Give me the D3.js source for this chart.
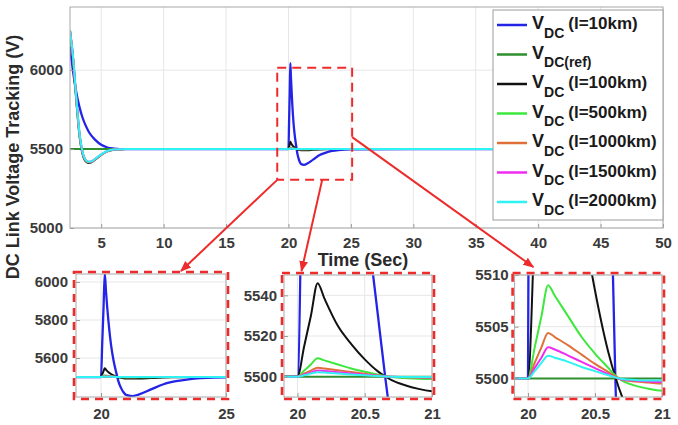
<!DOCTYPE html>
<html>
<head>
<meta charset="utf-8">
<script src="https://cdn.jsdelivr.net/npm/d3@7"></script>
<style>
  body { margin: 0; background: #fff; }
  svg { display: block; font-family: 'Liberation Sans', Arial, sans-serif; font-weight: bold; }
</style>
</head>
<body>
<div id="chart"></div>
<script>
// time axis shared by every series (denser around the disturbance at 20 s)
let timeSec = [2.5, 2.75, 3, 3.25, 3.5, 3.75, 4, 4.25, 4.5, 5, 5.5, 6, 6.5, 7, 10, 15, 20,
  20.05, 20.1, 20.15, 20.2, 20.3, 20.4, 20.5, 20.6, 20.65, 20.7, 20.8, 20.9, 21,
  21.25, 21.5, 22, 22.5, 23, 23.5, 24, 25, 30, 40, 50]

let vdc10km = [6150, 5990, 5860, 5770, 5700, 5650, 5610, 5582, 5560, 5527, 5510, 5503, 5500, 5500, 5500, 5500, 5500,
  5680, 5860, 6045, 5950, 5790, 5670, 5588, 5529, 5501, 5476, 5443, 5420, 5406,
  5400, 5408, 5435, 5462, 5478, 5488, 5494, 5499, 5500, 5500, 5500]

let vdcRef = [5500, 5500, 5500, 5500, 5500, 5500, 5500, 5500, 5500, 5500, 5500, 5500, 5500, 5500, 5500, 5500, 5500,
  5500, 5500, 5500, 5500, 5500, 5500, 5500, 5500, 5500, 5500, 5500, 5500, 5500,
  5500, 5500, 5500, 5500, 5500, 5500, 5500, 5500, 5500, 5500, 5500]

let vdc100km = [6250, 6060, 5810, 5590, 5470, 5422, 5412, 5418, 5432, 5463, 5486, 5496, 5499, 5500, 5500, 5500, 5500,
  5515, 5530, 5546, 5538.5, 5525, 5516, 5508.5, 5502.5, 5500.2, 5498.3, 5495.8, 5494, 5492.8,
  5491.8, 5492.5, 5495, 5497.5, 5499, 5499.7, 5500, 5500, 5500, 5500, 5500]

let vdc500km = [6250, 6070, 5820, 5600, 5478, 5428, 5416, 5420, 5434, 5464, 5487, 5497, 5499.5, 5500, 5500, 5500, 5500,
  5503, 5506, 5509, 5508, 5506, 5504, 5502.4, 5501, 5500.3, 5499.8, 5499.3, 5499, 5498.8,
  5498.7, 5498.9, 5499.4, 5499.8, 5500, 5500, 5500, 5500, 5500, 5500, 5500]

let vdc1000km = [6250, 6075, 5825, 5605, 5481, 5430, 5418, 5422, 5435, 5465, 5487, 5497, 5499.5, 5500, 5500, 5500, 5500,
  5501.5, 5503, 5504.4, 5504, 5503.2, 5502.3, 5501.4, 5500.6, 5500.2, 5499.9, 5499.7, 5499.6, 5499.5,
  5499.5, 5499.6, 5499.8, 5499.9, 5500, 5500, 5500, 5500, 5500, 5500, 5500]

let vdc1500km = [6250, 6078, 5828, 5608, 5483, 5431, 5419, 5423, 5436, 5465, 5488, 5497, 5499.5, 5500, 5500, 5500, 5500,
  5501, 5502, 5503, 5502.8, 5502.2, 5501.6, 5501, 5500.4, 5500.1, 5499.9, 5499.8, 5499.7, 5499.65,
  5499.7, 5499.75, 5499.9, 5500, 5500, 5500, 5500, 5500, 5500, 5500, 5500]

let vdc2000km = [6250, 6080, 5830, 5610, 5485, 5432, 5420, 5424, 5437, 5466, 5488, 5497, 5499.5, 5500, 5500, 5500, 5500,
  5500.7, 5501.5, 5502.2, 5502, 5501.6, 5501.1, 5500.7, 5500.3, 5500.1, 5499.95, 5499.85, 5499.8, 5499.8,
  5499.85, 5499.9, 5500, 5500, 5500, 5500, 5500, 5500, 5500, 5500, 5500]

let seriesKeys = ['l=10km', 'ref', 'l=100km', 'l=500km', 'l=1000km', 'l=1500km', 'l=2000km']
let legendSubs = ['DC', 'DC(ref)', 'DC', 'DC', 'DC', 'DC', 'DC']
let legendRest = ['(l=10km)', '', '(l=100km)', '(l=500km)', '(l=1000km)', '(l=1500km)', '(l=2000km)']

let mainXTicks = [5, 10, 15, 20, 25, 30, 35, 40, 45, 50]
let mainYTicks = [5000, 5500, 6000]
let zoom1XTicks = [20, 25]
let zoom1YTicks = [5600, 5800, 6000]
let zoom2XTicks = [20, 20.5, 21]
let zoom2YTicks = [5500, 5520, 5540]
let zoom3XTicks = [20, 20.5, 21]
let zoom3YTicks = [5500, 5505, 5510]

let colors = ['#2424e6', '#2f8f2f', '#111111', '#3de83d', '#e0703a', '#f02cf0', '#2ff2f2']
let red = '#ee2b2b'

let series = seriesKeys.map((k, i) => ({
  key: k,
  color: colors[i],
  values: [vdc10km, vdcRef, vdc100km, vdc500km, vdc1000km, vdc1500km, vdc2000km][i]
}))

let svg = d3.select('#chart').append('svg')
  .attr('width', 678)
  .attr('height', 425)

let defs = svg.append('defs')
defs.append('marker')
  .attr('id', 'arrow')
  .attr('viewBox', '0 0 10 10')
  .attr('refX', 9)
  .attr('refY', 5)
  .attr('markerWidth', 11)
  .attr('markerHeight', 11)
  .attr('markerUnits', 'userSpaceOnUse')
  .attr('orient', 'auto')
  .append('path')
  .attr('d', 'M0,1L10,5L0,9Z')
  .attr('fill', red)

function drawPanel(p) {
  let x = d3.scaleLinear().domain(p.xDomain).range([p.left, p.right])
  let y = d3.scaleLinear().domain(p.yDomain).range([p.bottom, p.top])
  let w = p.right - p.left
  let h = p.bottom - p.top
  let g = svg.append('g').attr('class', 'panel ' + p.id)

  g.append('rect')
    .attr('x', p.left).attr('y', p.top)
    .attr('width', w).attr('height', h)
    .attr('fill', 'white')

  defs.append('clipPath')
    .attr('id', 'clip-' + p.id)
    .append('rect')
    .attr('x', p.left).attr('y', p.top)
    .attr('width', w).attr('height', h)

  // grid
  g.selectAll('.grid-x')
    .data(p.xTicks)
    .enter()
    .append('line')
    .attr('x1', d => x(d)).attr('x2', d => x(d))
    .attr('y1', p.top).attr('y2', p.bottom)
    .attr('stroke', '#e6e6e6')
  g.selectAll('.grid-y')
    .data(p.yTicks)
    .enter()
    .append('line')
    .attr('x1', p.left).attr('x2', p.right)
    .attr('y1', d => y(d)).attr('y2', d => y(d))
    .attr('stroke', '#e6e6e6')

  let line = d3.line()
    .x((d, i) => x(timeSec[i]))
    .y(d => y(d))
    .curve(d3.curveMonotoneX)

  g.append('g')
    .attr('clip-path', 'url(#clip-' + p.id + ')')
    .selectAll('path')
    .data(series)
    .enter()
    .append('path')
    .attr('d', d => line(d.values))
    .attr('fill', 'none')
    .attr('stroke', d => d.color)
    .attr('stroke-width', d => (d.key === 'l=10km' ? p.lineWidth + 0.3 : p.lineWidth))
    .attr('stroke-linejoin', 'round')

  let xAxis = d3.axisBottom(x)
    .tickValues(p.xTicks)
    .tickSizeInner(-4)
    .tickSizeOuter(0)
    .tickPadding(p.xPad)
    .tickFormat(d3.format(''))
  let yAxis = d3.axisLeft(y)
    .tickValues(p.yTicks)
    .tickSizeInner(-4)
    .tickSizeOuter(0)
    .tickPadding(p.yPad)
    .tickFormat(d3.format(''))

  let xg = g.append('g')
    .attr('transform', 'translate(0,' + p.bottom + ')')
    .call(xAxis)
  let yg = g.append('g')
    .attr('transform', 'translate(' + p.left + ',0)')
    .call(yAxis)
  ;[xg, yg].forEach(a => {
    a.select('.domain').remove()
    a.selectAll('line').attr('stroke', '#9a9a9a')
    a.selectAll('text')
      .attr('fill', '#3a3a3a')
      .attr('font-size', 15)
      .attr('font-weight', 'bold')
      .attr('font-family', "'Liberation Sans', Arial, sans-serif")
  })

  g.append('rect')
    .attr('x', p.left).attr('y', p.top)
    .attr('width', w).attr('height', h)
    .attr('fill', 'none')
    .attr('stroke', '#a8a8a8')
    .attr('stroke-width', 1)

  if (p.frame) {
    g.append('rect')
      .attr('x', p.left - 2).attr('y', p.top - 2)
      .attr('width', w + 4).attr('height', h + 4)
      .attr('fill', 'none')
      .attr('stroke', red)
      .attr('stroke-width', 2.6)
      .attr('stroke-dasharray', '8,6')
  }
  return { x: x, y: y, p: p }
}

let main = drawPanel({
  id: 'main', xDomain: [2.5, 50], yDomain: [5000, 6400],
  left: 70, right: 663, top: 7, bottom: 228,
  xTicks: mainXTicks, yTicks: mainYTicks, xPad: 9, yPad: 7, lineWidth: 2, frame: false
})

// zoom region on the main chart
let zoomBox = { t0: 19.1, t1: 25.1, v0: 5305, v1: 6015 }
svg.append('rect')
  .attr('x', main.x(zoomBox.t0))
  .attr('y', main.y(zoomBox.v1))
  .attr('width', main.x(zoomBox.t1) - main.x(zoomBox.t0))
  .attr('height', main.y(zoomBox.v0) - main.y(zoomBox.v1))
  .attr('fill', 'none')
  .attr('stroke', red)
  .attr('stroke-width', 2)
  .attr('stroke-dasharray', '9,6')

// legend
let lgX = 493
let lgY = 10
let legend = svg.append('g').attr('class', 'legend')
legend.append('rect')
  .attr('x', lgX).attr('y', lgY)
  .attr('width', main.p.right - lgX).attr('height', 210)
  .attr('fill', 'white')
  .attr('stroke', '#9c9c9c')
  .attr('stroke-width', 1)

series.forEach((s, i) => {
  let yy = lgY + 15 + i * 29.5
  legend.append('line')
    .attr('x1', lgX + 4).attr('x2', lgX + 34)
    .attr('y1', yy).attr('y2', yy)
    .attr('stroke', s.color)
    .attr('stroke-width', 2.5)
  let t = legend.append('text')
    .attr('x', lgX + 39)
    .attr('y', yy + 4)
    .attr('fill', '#1a1a1a')
  t.append('tspan').attr('font-size', 18).text('V')
  t.append('tspan').attr('font-size', 14).attr('dy', 8.5).text(legendSubs[i])
  if (legendRest[i]) {
    t.append('tspan').attr('font-size', 17).attr('dy', -8.5).attr('dx', 4).text(legendRest[i])
  }
})

// axis titles
svg.append('text')
  .attr('x', 363)
  .attr('y', 266)
  .attr('text-anchor', 'middle')
  .attr('font-size', 18)
  .attr('fill', '#2a2a2a')
  .text('Time (Sec)')

svg.append('text')
  .attr('transform', 'translate(18.5,157) rotate(-90)')
  .attr('text-anchor', 'middle')
  .attr('font-size', 18)
  .attr('fill', '#2a2a2a')
  .text('DC Link Voltage Tracking (V)')

// insets
let zoom1 = drawPanel({
  id: 'zoom1', xDomain: [19, 25], yDomain: [5395, 6042],
  left: 76, right: 226, top: 274, bottom: 397,
  xTicks: zoom1XTicks, yTicks: zoom1YTicks, xPad: 11, yPad: 8, lineWidth: 2, frame: true
})
let zoom2 = drawPanel({
  id: 'zoom2', xDomain: [19.9, 21], yDomain: [5490, 5550],
  left: 284, right: 432, top: 275, bottom: 397,
  xTicks: zoom2XTicks, yTicks: zoom2YTicks, xPad: 11, yPad: 7, lineWidth: 2, frame: true
})
let zoom3 = drawPanel({
  id: 'zoom3', xDomain: [19.9, 21], yDomain: [5498.2, 5510],
  left: 514.6, right: 662, top: 275, bottom: 397,
  xTicks: zoom3XTicks, yTicks: zoom3YTicks, xPad: 11, yPad: 6, lineWidth: 2, frame: true
})

// arrows from the zoom box to each inset
let arrows = [
  { from: [main.x(zoomBox.t0), main.y(zoomBox.v0)], to: [zoom1.x(23.2), zoom1.p.top - 3] },
  { from: [main.x(22.7), main.y(zoomBox.v0)], to: [zoom2.x(20.03), zoom2.p.top - 4] },
  { from: [main.x(zoomBox.t1), main.y(5576)], to: [zoom3.x(20.04), zoom3.p.top - 8] }
]
svg.selectAll('.arrow')
  .data(arrows)
  .enter()
  .append('line')
  .attr('class', 'arrow')
  .attr('x1', d => d.from[0]).attr('y1', d => d.from[1])
  .attr('x2', d => d.to[0]).attr('y2', d => d.to[1])
  .attr('stroke', red)
  .attr('stroke-width', 2)
  .attr('marker-end', 'url(#arrow)')
</script>
</body>
</html>
